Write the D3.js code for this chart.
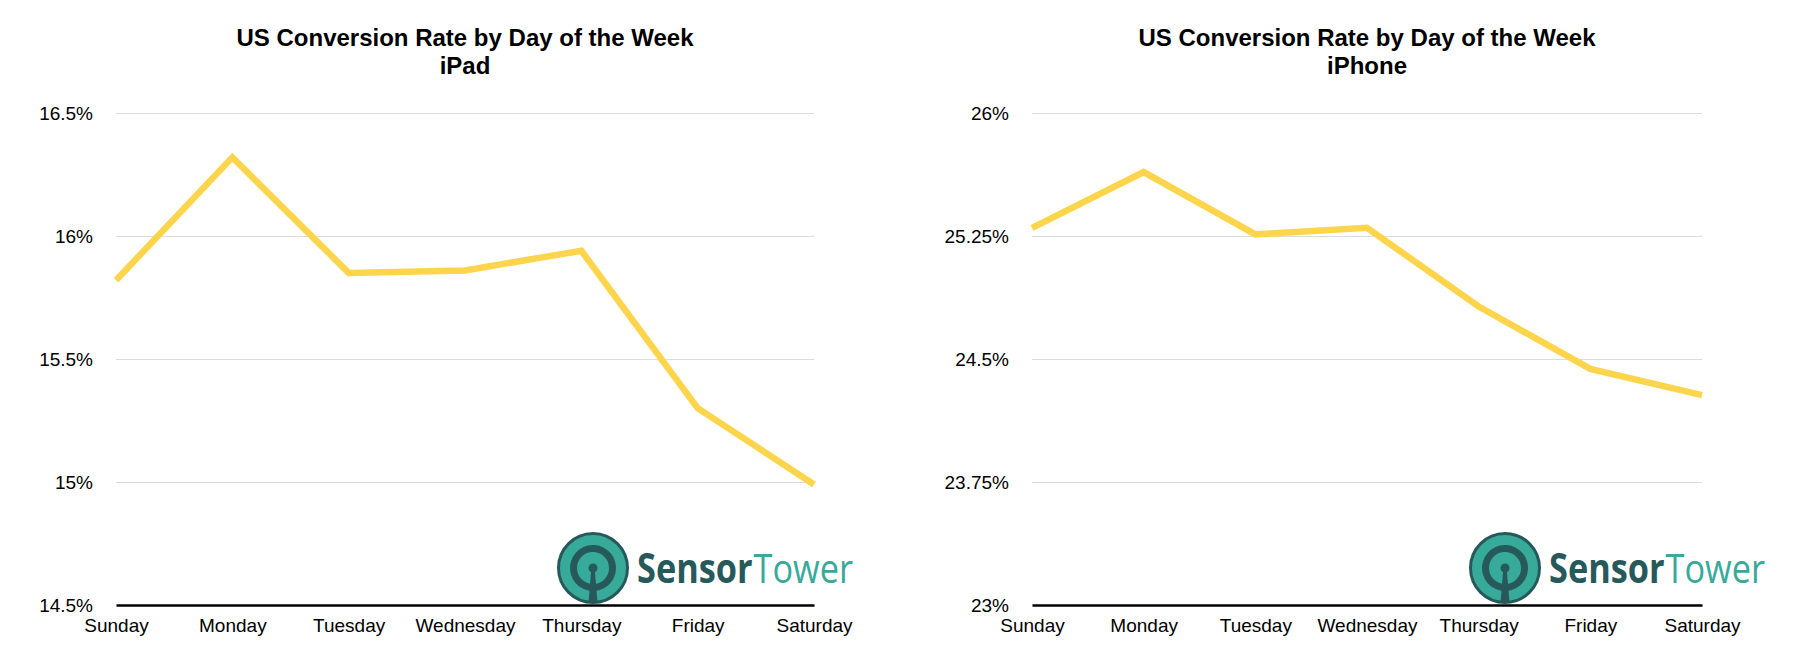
<!DOCTYPE html>
<html><head>
<meta charset="utf-8">
<title>US Conversion Rate by Day of the Week</title>
<script src="https://d3js.org/d3.v7.min.js"></script>
<style>
  body { margin: 0; background: #fff; }
  text { font-family: "Liberation Sans", Arial, sans-serif; fill: #000; }
  .title { font-weight: bold; font-size: 24px; }
  .tick text { font-size: 19px; }
  .grid .tick line { stroke: #dcdcdc; stroke-width: 1; }
  .logo text { font-family: "Open Sans", sans-serif; }
</style>
</head>
<body>
<svg id="chart" width="1800" height="650"></svg>

<script>
// data
const days = ["Sunday", "Monday", "Tuesday", "Wednesday", "Thursday", "Friday", "Saturday"];
const ipadRates = [15.82, 16.32, 15.85, 15.86, 15.94, 15.30, 14.99];
const iphoneRates = [25.30, 25.64, 25.26, 25.30, 24.82, 24.44, 24.28];
const ipadTicks = [14.5, 15, 15.5, 16, 16.5];
const iphoneTicks = [23, 23.75, 24.5, 25.25, 26];
const ipadTickLabels = ["14.5%", "15%", "15.5%", "16%", "16.5%"];
const iphoneTickLabels = ["23%", "23.75%", "24.5%", "25.25%", "26%"];

let svg = d3.select("#chart");

function drawChart(opts) {
  let x = d3.scalePoint().domain(days).range([opts.left, opts.right]).padding(0);
  let y = d3.scaleLinear().domain(d3.extent(opts.ticks)).range([605, 113]);
  let g = svg.append("g");

  // gridlines + y labels
  g.append("g")
      .attr("class", "grid")
      .attr("transform", "translate(" + opts.left + ",0)")
      .call(d3.axisLeft(y)
          .tickValues(opts.ticks)
          .tickFormat((d, i) => opts.labels[i])
          .tickSize(-(opts.right - opts.left))
          .tickPadding(23))
      .call(a => a.select(".domain").remove())
      .call(a => a.selectAll(".tick text").attr("dy", "0.36em"));

  // x axis (black baseline)
  g.append("g")
      .attr("transform", "translate(0,605)")
      .call(d3.axisBottom(x).tickSize(0).tickPadding(16))
      .call(a => a.select(".domain").attr("stroke", "#000").attr("stroke-width", 2.5))
      .call(a => a.selectAll(".tick text").attr("dy", "0.6em"));

  // the line
  let line = d3.line()
      .x((d, i) => x(days[i]))
      .y(d => y(d));
  g.append("path")
      .datum(opts.values)
      .attr("d", line)
      .attr("fill", "none")
      .attr("stroke", "#fdd54c")
      .attr("stroke-width", 6.5)
      .attr("stroke-linejoin", "miter");

  // title
  let cx = (opts.left + opts.right) / 2;
  g.append("text").attr("class", "title").attr("x", cx).attr("y", 46)
      .attr("text-anchor", "middle").text("US Conversion Rate by Day of the Week");
  g.append("text").attr("class", "title").attr("x", cx).attr("y", 74)
      .attr("text-anchor", "middle").text(opts.device);

  drawLogo(opts.logoX, 568);
}

// Sensor Tower watermark
function drawLogo(cx, cy) {
  let lg = svg.append("g").attr("class", "logo").attr("transform", "translate(" + cx + "," + cy + ")");
  let dark = "#27595a", teal = "#37aa9a";
  lg.append("circle").attr("r", 34.5).attr("fill", teal).attr("stroke", dark).attr("stroke-width", 3);
  // horseshoe arc, open at the bottom
  let arc = d3.arc().innerRadius(16).outerRadius(23)
      .startAngle(Math.PI * 0.78).endAngle(Math.PI * 3.22);
  lg.append("path").attr("d", arc()).attr("fill", dark);
  lg.append("circle").attr("r", 4.5).attr("fill", dark);
  lg.append("path").attr("d", "M-1.6,0 L1.6,0 L4.5,34.5 L-4.5,34.5 Z").attr("fill", dark);

  // wordmark: lay out naturally, then squeeze the group to the logo width
  let word = lg.append("g");
  let s = word.append("text").attr("x", 0).attr("y", 0).style("font-size", "41px")
      .style("font-weight", "bold").style("fill", dark).text("Sensor");
  let sw = s.node().getComputedTextLength();
  let t = word.append("text").attr("x", sw + 1).attr("y", 0).style("font-size", "41px")
      .style("fill", teal).text("Tower");
  let total = sw + 1 + t.node().getComputedTextLength();
  word.attr("transform", "translate(44,15) scale(" + (216 / total) + ",1)");
}

drawChart({ left: 116, right: 814, values: ipadRates, ticks: ipadTicks, labels: ipadTickLabels, device: "iPad", logoX: 593 });
drawChart({ left: 1032, right: 1702, values: iphoneRates, ticks: iphoneTicks, labels: iphoneTickLabels, device: "iPhone", logoX: 1505 });
</script>
</body>
</html>
